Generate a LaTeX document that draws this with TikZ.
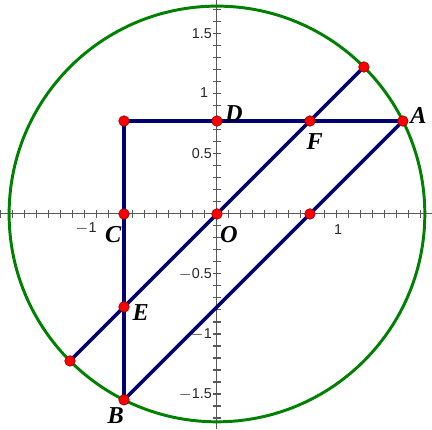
\documentclass[tikz,border=0pt]{standalone}
\usepackage{fontspec}
\setmainfont{Liberation Serif}
\setsansfont{Liberation Sans}
\usetikzlibrary{calc}
\begin{document}
\begin{tikzpicture}[x=2cm,y=2cm,
  axis/.style={draw=black!65, line width=0.5pt},
  tick/.style={draw=black!65, line width=0.5pt},
  seg/.style={draw=blue!45!black, line width=1.7pt},
  circ/.style={draw=green!50!black, line width=1.4pt},
  pt/.style={circle, fill=red, draw=red!60!black, line width=0.3pt, inner sep=0pt, minimum size=5pt},
  lab/.style={font=\bfseries\itshape\fontsize{11.5}{12}\selectfont, inner sep=1pt},
  num/.style={font=\sffamily\fontsize{6.8}{7}\selectfont, text=black!85, inner sep=0pt}]
\useasboundingbox (-1.808,-1.792) rectangle (1.792,1.783);
\pgfmathsetmacro{\a}{sqrt(3/5)}
\pgfmathsetmacro{\r}{sqrt(3/2)}
% axes
\draw[axis] (-1.808,0) -- (1.792,0);
\draw[axis] (0,-1.792) -- (0,1.783);
\foreach \i in {-18,...,17} { \draw[tick] (\i/10,-0.033) -- (\i/10,0.033); }
\foreach \i in {-17,...,17} { \draw[tick] (-0.033,\i/10) -- (0.033,\i/10); }
\node[num, anchor=east] (xm1) at (-1.0,-0.12) {$-$1};
\node[num] (x1) at (1.01,-0.13) {1};
\node[num, anchor=east] (y15) at (-0.04,1.5) {1.5};
\node[num, anchor=east] (y1) at (-0.07,1.01) {1};
\node[num, anchor=east] (y05) at (-0.04,0.5) {0.5};
\node[num, anchor=east] (ym05) at (-0.04,-0.5) {$-$0.5};
\node[num, anchor=east] (ym1) at (-0.04,-1.0) {$-$1};
\node[num, anchor=east] (ym15) at (-0.04,-1.5) {$-$1.5};
% circle
\draw[circ] (0,0) circle ({sqrt(3)});
% coordinates
\coordinate (P) at (-\a,\a);
\coordinate (D) at (0,\a);
\coordinate (F) at (\a,\a);
\coordinate (A) at (2*\a,\a);
\coordinate (C) at (-\a,0);
\coordinate (O) at (0,0);
\coordinate (G) at (\a,0);
\coordinate (E) at (-\a,-\a);
\coordinate (B) at (-\a,-2*\a);
\coordinate (U) at (\r,\r);
\coordinate (L) at (-\r,-\r);
% segments
\draw[seg] (P) -- (B);
\draw[seg] (P) -- (A);
\draw[seg] (L) -- (U);
\draw[seg] (B) -- (A);
% points
\foreach \p in {P,D,F,A,C,O,G,E,B,U,L} { \node[pt] (n\p) at (\p) {}; }
% labels
\node[lab] (lA) at ($(A)+(0.13,0.05)$) {A};
\node[lab] (lD) at ($(D)+(0.14,0.06)$) {D};
\node[lab] (lF) at ($(F)+(0.04,-0.17)$) {F};
\node[lab] (lC) at ($(C)+(-0.09,-0.17)$) {C};
\node[lab] (lO) at ($(O)+(0.10,-0.17)$) {O};
\node[lab] (lE) at ($(E)+(0.14,-0.05)$) {E};
\node[lab] (lB) at ($(B)+(-0.07,-0.135)$) {B};
\end{tikzpicture}
\end{document}
